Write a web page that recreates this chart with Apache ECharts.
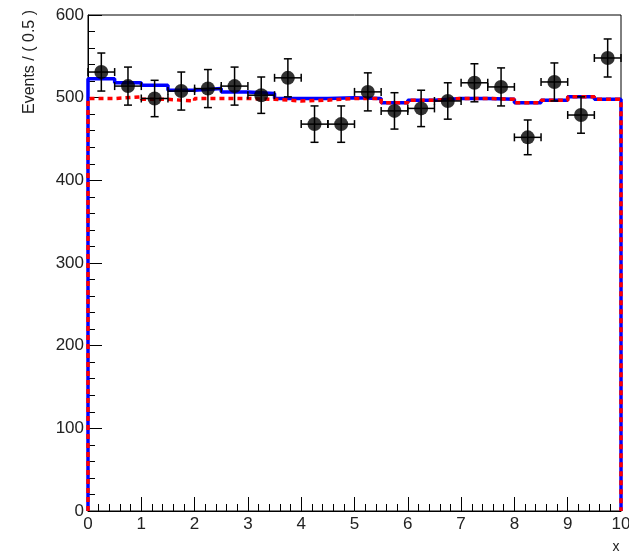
<!DOCTYPE html>
<html>
<head>
<meta charset="utf-8">
<script src="https://cdn.jsdelivr.net/npm/echarts@6/dist/echarts.min.js"></script>
<style>
html,body{margin:0;padding:0;background:#fff;}
#chart{width:629px;height:554px;}
</style>
</head>
<body>
<div id="chart"></div>
<script>
// Data points (bin centres, counts, errors)
var binCenters = [0.25,0.75,1.25,1.75,2.25,2.75,3.25,3.75,4.25,4.75,5.25,5.75,6.25,6.75,7.25,7.75,8.25,8.75,9.25,9.75];
var counts     = [531,514,499,508,511,514,503,524,468,468,507,484,487,496,518,513,452,519,479,548];
var yErrors    = [23,23,22,23,23,23,22,23,22,22,23,22,22,22,23,23,21,23,22,23];
var xHalfWidth = 0.25;

// Curves (value per 0.5 bin)
var binEdges   = [0,0.5,1,1.5,2,2.5,3,3.5,4,4.5,5,5.5,6,6.5,7,7.5,8,8.5,9,9.5,10];
var blueCurve  = [523,518,515,509,511,507,505,499,499,500,499,494,497,499,499,498,494,497,501,498];
var redCurve   = [499,501,498,496,499,499,498,496,497,499,499,494,497,499,499,498,494,497,501,498];

var yTicks = [0,100,200,300,400,500,600];
var xTicks = [0,1,2,3,4,5,6,7,8,9,10];
var yTitle = 'Events / ( 0.5 )';
var xTitle = 'x';

function stepData(vals){
  var d = [[binEdges[0],0]];
  for (var i=0;i<vals.length;i++) d.push([binEdges[i], vals[i]]);
  d.push([binEdges[binEdges.length-1], vals[vals.length-1]]);
  d.push([binEdges[binEdges.length-1], 0]);
  return d;
}

var pts = binCenters.map(function(x,i){return [x, counts[i], xHalfWidth, yErrors[i]];});

var chart = echarts.init(document.getElementById('chart'));
var font = 'Liberation Sans, Arial, Helvetica, sans-serif';
chart.setOption({
  animation:false,
  backgroundColor:'#fff',
  grid:{left:88,right:8,top:15,bottom:43,containLabel:false,outerBoundsMode:'none',
        show:true,borderColor:'#000',borderWidth:1,backgroundColor:'transparent'},
  graphic:[
    {type:'text',x:30,y:10,rotation:Math.PI/2,
     style:{text:yTitle,fontFamily:font,fontSize:16,fill:'#222',align:'right',verticalAlign:'middle'}},
    {type:'text',x:616,y:547,
     style:{text:xTitle,fontFamily:font,fontSize:14,fill:'#222',align:'center',verticalAlign:'middle'}}
  ],
  xAxis:{
    type:'value',min:xTicks[0],max:xTicks[xTicks.length-1],interval:1,
    axisLine:{lineStyle:{color:'#000',width:1}},
    axisTick:{inside:true,length:14,lineStyle:{color:'#000'}},
    minorTick:{show:true,splitNumber:5,length:7,lineStyle:{color:'#000'}},
    splitLine:{show:false},
    axisLabel:{fontFamily:font,fontSize:17,color:'#222',margin:5}
  },
  yAxis:{
    type:'value',min:yTicks[0],max:yTicks[yTicks.length-1],interval:100,
    axisLine:{lineStyle:{color:'#000',width:1}},
    axisTick:{inside:true,length:14,lineStyle:{color:'#000'}},
    minorTick:{show:true,splitNumber:5,length:7,lineStyle:{color:'#000'}},
    splitLine:{show:false},
    axisLabel:{fontFamily:font,fontSize:17,color:'#222',margin:4}
  },
  series:[
    {type:'line',data:stepData(blueCurve),step:'end',symbol:'none',
     lineStyle:{color:'#0000ff',width:3.5},z:2},
    {type:'line',data:stepData(redCurve),step:'end',symbol:'none',
     lineStyle:{color:'#ff0000',width:3.5,type:[5,4]},z:3},
    {type:'custom',z:4,data:pts,
     renderItem:function(params,api){
       var x=api.value(0),y=api.value(1),ex=api.value(2),ey=api.value(3);
       var l=api.coord([x-ex,y]),r=api.coord([x+ex,y]);
       var t=api.coord([x,y+ey]),b=api.coord([x,y-ey]);
       var st={stroke:'#000',lineWidth:1.5};
       var cap=4;
       return {type:'group',children:[
         {type:'line',shape:{x1:l[0],y1:l[1],x2:r[0],y2:r[1]},style:st},
         {type:'line',shape:{x1:t[0],y1:t[1],x2:b[0],y2:b[1]},style:st},
         {type:'line',shape:{x1:l[0],y1:l[1]-cap,x2:l[0],y2:l[1]+cap},style:st},
         {type:'line',shape:{x1:r[0],y1:r[1]-cap,x2:r[0],y2:r[1]+cap},style:st},
         {type:'line',shape:{x1:t[0]-cap,y1:t[1],x2:t[0]+cap,y2:t[1]},style:st},
         {type:'line',shape:{x1:b[0]-cap,y1:b[1],x2:b[0]+cap,y2:b[1]},style:st}
       ]};
     }},
    {type:'scatter',z:5,data:pts.map(function(p){return [p[0],p[1]];}),
     symbol:'circle',symbolSize:14,itemStyle:{color:'#000'}}
  ]
});
</script>
</body>
</html>
